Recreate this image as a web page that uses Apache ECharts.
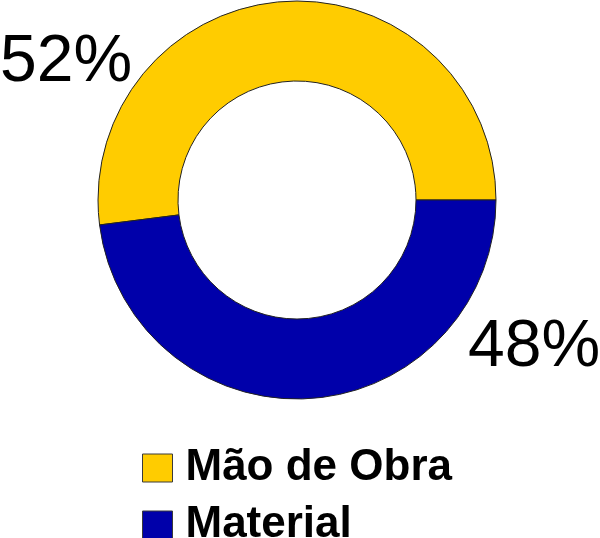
<!DOCTYPE html>
<html>
<head>
<meta charset="utf-8">
<script src="https://cdn.jsdelivr.net/npm/echarts@6/dist/echarts.min.js"></script>
<style>html,body{margin:0;padding:0;background:#fff;}#c{width:600px;height:538px;}</style>
</head>
<body>
<div id="c"></div>
<script>
const categories = ['Mão de Obra', 'Material'];
const values = [52, 48];
const colors = ['#FFCC00', '#0000AA'];

const chart = echarts.init(document.getElementById('c'), null, {renderer: 'canvas'});
const labelPos = [
  {x: 0, y: 63, align: 'left'},
  {x: 468, y: 348, align: 'left'}
];
chart.setOption({
  animation: false,
  color: colors,
  legend: {
    orient: 'vertical',
    left: 137,
    top: 441,
    height: 200,
    itemWidth: 30,
    itemHeight: 28,
    itemGap: 13,
    icon: 'rect',
    data: categories,
    itemStyle: {borderColor: '#3a3a3a', borderWidth: 1},
    textStyle: {fontFamily: 'Liberation Sans, Arial, sans-serif', fontWeight: 'bold', fontSize: 44, color: '#000', padding: [0, 0, 0, 8]}
  },
  series: [{
    type: 'pie',
    center: [297, 200],
    radius: [119, 199],
    startAngle: 0,
    clockwise: false,
    silent: true,
    itemStyle: {borderColor: '#222', borderWidth: 1},
    label: {
      show: true,
      position: 'outside',
      formatter: '{d}%',
      fontFamily: 'Liberation Sans, Arial, sans-serif',
      fontSize: 66,
      color: '#000'
    },
    labelLine: {show: false},
    labelLayout: function (p) {
      const q = labelPos[p.dataIndex];
      return {x: q.x, y: q.y, align: q.align, verticalAlign: 'middle'};
    },
    data: categories.map((n, i) => ({name: n, value: values[i]}))
  }]
});
</script>
</body>
</html>
